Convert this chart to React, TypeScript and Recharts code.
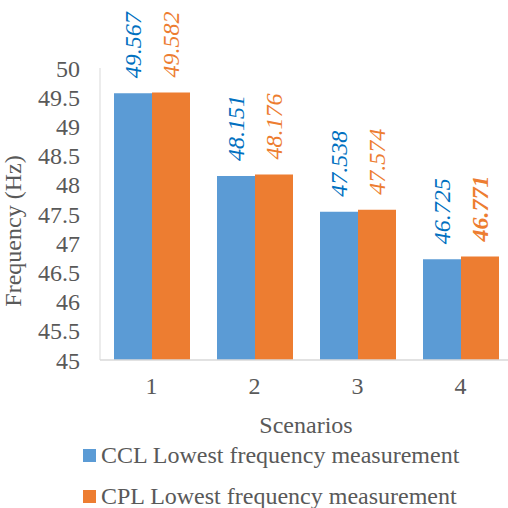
import React from "react";
import { Bar, BarChart, LabelList, Legend, XAxis, YAxis } from "recharts";

const SCENARIOS = ["1", "2", "3", "4"];
const CCL_LOWEST = [49.567, 48.151, 47.538, 46.725];
const CPL_LOWEST = [49.582, 48.176, 47.574, 46.771];
const Y_TICKS = [45, 45.5, 46, 46.5, 47, 47.5, 48, 48.5, 49, 49.5, 50];

const FONT = "Liberation Serif, Times New Roman, Tinos, DejaVu Serif";
const TEXT_GRAY = "#595959";
const AXIS_GRAY = "#d9d9d9";

const SERIES = [
  { key: "ccl", name: "CCL Lowest frequency measurement", fill: "#5B9BD5", labelColor: "#0070C0" },
  { key: "cpl", name: "CPL Lowest frequency measurement", fill: "#ED7D31", labelColor: "#ED7D31" },
];

const rows = SCENARIOS.map((scenario, i) => ({
  scenario,
  ccl: CCL_LOWEST[i],
  cpl: CPL_LOWEST[i],
}));

// Vertical italic value label sitting just above each bar.
function makeValueLabel(color: string, boldIndex: number) {
  return (props: any) => {
    const { x, y, width, value, index } = props;
    const cx = Number(x) + Number(width) / 2;
    const top = Number(y) - 15;
    return (
      <text
        transform={`translate(${cx}, ${top}) rotate(-90)`}
        textAnchor="start"
        dominantBaseline="central"
        style={{ fontFamily: FONT }}
        fontSize={24}
        fontStyle="italic"
        fontWeight={index === boldIndex ? "bold" : "normal"}
        fill={color}
      >
        {value}
      </text>
    );
  };
}

function YTitle(props: any) {
  const { viewBox } = props;
  const cx = viewBox.x + 13;
  const cy = viewBox.y + viewBox.height / 2 + 17;
  return (
    <text
      transform={`translate(${cx}, ${cy}) rotate(-90)`}
      textAnchor="middle"
      dominantBaseline="central"
      style={{ fontFamily: FONT }}
      fontSize={24}
      fill={TEXT_GRAY}
    >
      Frequency (Hz)
    </text>
  );
}

function LegendBox() {
  const rowCenters = [20, 61];
  return (
    <div style={{ position: "relative", height: 73, width: 520, fontFamily: FONT }}>
      {SERIES.map((s, i) => (
        <div
          key={s.key}
          style={{
            position: "absolute",
            left: 83,
            top: rowCenters[i] - 14,
            height: 28,
            display: "flex",
            alignItems: "center",
            whiteSpace: "nowrap",
          }}
        >
          <span style={{ width: 13, height: 13, background: s.fill, marginRight: 5, marginTop: 1 }} />
          <span style={{ fontSize: 24, color: TEXT_GRAY, lineHeight: "28px" }}>{s.name}</span>
        </div>
      ))}
    </div>
  );
}

export default function App() {
  return (
    <div
      style={{
        position: "absolute",
        left: 0,
        top: 0,
        width: 508,
        height: 508,
        overflow: "hidden",
        background: "#fff",
        fontFamily: FONT,
      }}
    >
      <BarChart
        width={520}
        height={508}
        data={rows}
        margin={{ top: 68, right: 8, left: 0, bottom: 0 }}
        barCategoryGap={14}
        barGap={0}
        style={{ fontFamily: FONT }}
      >
        <XAxis
          dataKey="scenario"
          height={75}
          tickLine={false}
          tickSize={6}
          tickMargin={11}
          axisLine={{ stroke: AXIS_GRAY, strokeWidth: 1.5 }}
          tick={{ fontFamily: FONT, fontSize: 24, fill: TEXT_GRAY }}
          label={{
            value: "Scenarios",
            position: "insideBottom",
            offset: 2,
            fontFamily: FONT,
            fontSize: 24,
            fill: TEXT_GRAY,
          }}
        />
        <YAxis
          width={100}
          domain={[45, 50]}
          ticks={Y_TICKS}
          interval={0}
          allowDataOverflow
          tickLine={false}
          tickSize={6}
          tickMargin={14}
          axisLine={{ stroke: AXIS_GRAY }}
          tick={{ fontFamily: FONT, fontSize: 24, fill: TEXT_GRAY }}
          label={<YTitle />}
        />
        <Legend
          verticalAlign="bottom"
          content={<LegendBox />}
          wrapperStyle={{ left: 0, width: 520, height: 73 }}
        />
        {SERIES.map((s) => (
          <Bar key={s.key} dataKey={s.key} name={s.name} fill={s.fill} isAnimationActive={false}>
            <LabelList
              dataKey={s.key}
              content={makeValueLabel(s.labelColor, s.key === "cpl" ? 3 : -1)}
            />
          </Bar>
        ))}
      </BarChart>
    </div>
  );
}
